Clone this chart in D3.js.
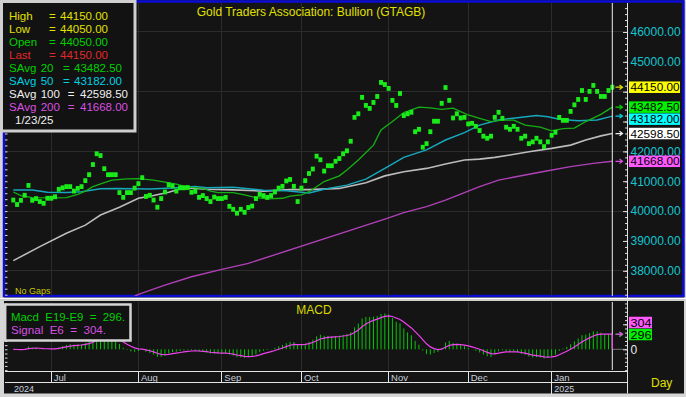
<!DOCTYPE html>
<html>
<head>
<meta charset="utf-8">
<script src="https://cdn.jsdelivr.net/npm/d3@7/dist/d3.min.js"></script>
<style>
  body { margin: 0; background: #d6d6d6; }
  svg { display: block; font-family: 'Liberation Sans', Arial, sans-serif; }
</style>
</head>
<body>
<svg id="chart" width="686" height="397"></svg>
<script>
// daily closes, one per weekday from 17 Jun 2024 to 23 Jan 2025
const closes = [
  40370, 40220, 40360, 40530, 40860, 40360, 40420, 40320, 40260, 40430,
  40430, 40480, 40730, 40780, 40820, 40820, 40670, 40760, 40820, 41020,
  41220, 41560, 41920, 41860, 41420, 41220, 41220, 41220, 40620, 40460,
  40620, 40620, 40770, 40920, 41120, 40490, 40530, 40370, 40130,
  40420, 40640, 40880, 40840, 40670, 40780, 40780, 40790, 40630, 40660,
  40460, 40520, 40420, 40320, 40470, 40420, 40420, 40460, 40160, 40060,
  39930, 40060, 39960, 40120, 40170, 40420, 40560, 40520, 40460, 40520,
  40640, 40770, 40830, 41010, 41060, 40830, 40320, 40770, 41020, 41260,
  41410, 41840, 41720, 41340, 41520, 41520, 41670, 41760, 41920, 42020,
  42340, 43140, 43260, 43810, 43540, 43440, 43640, 43840, 44310, 44240,
  44110, 43710, 43540, 43940, 43200, 43260, 43310, 42660, 42740, 42140,
  42260, 42660, 43010, 43010, 43610, 44140, 43710, 43120, 43260, 43120,
  43140, 42920, 42940, 42840, 42700, 42510, 42440, 42510, 43140, 43310,
  43110, 42810, 42740, 42840, 42740, 42440, 42510, 42260, 42320, 42440,
  42320, 42160, 42320, 42540, 42640, 43140, 43040, 43040, 43340, 43560,
  43740, 44040, 43740, 44010, 44210, 44010, 43840, 43840, 44040, 44150
];

// moving averages: [weekday index, value]
const sma20 = [[0,40640],[2,40520],[5,40450],[10,40440],[14,40450],[17,40560],[19,40670],[21,40820],
  [24,40950],[26,41040],[30,41080],[33,41090],[37,41040],[40,40970],[43,40900],[46,40800],[50,40760],
  [52,40670],[54,40620],[58,40620],[61,40540],[64,40450],[67,40410],[71,40430],[73,40500],[76,40540],
  [78,40650],[79,40730],[82,40990],[86,41180],[88,41380],[91,41710],[95,42210],[97,42720],[100,43000],
  [103,43300],[107,43480],[110,43460],[113,43410],[116,43450],[118,43330],[120,43220],[123,43110],
  [126,43000],[129,43050],[132,43050],[135,42880],[139,42810],[142,42690],[145,42760],[148,42780],
  [151,43000],[155,43240],[158,43482.5]];
const sma50 = [[0,40710],[5,40710],[9,40630],[14,40620],[18,40650],[23,40750],[27,40760],[36,40740],
  [42,40770],[48,40820],[51,40780],[58,40800],[62,40750],[66,40700],[72,40680],[76,40630],[78,40610],
  [82,40730],[88,40870],[93,41070],[98,41430],[103,41800],[109,42050],[114,42380],[119,42630],
  [123,42880],[128,43050],[133,43130],[138,43200],[141,43160],[144,43080],[149,43030],[154,43050],
  [158,43182]];
const sma100 = [[0,38340],[7,38810],[14,39260],[19,39530],[23,39870],[28,40130],[33,40430],[37,40520],
  [41,40630],[45,40780],[51,40730],[58,40710],[66,40670],[73,40720],[78,40720],[86,40760],[93,40950],
  [98,41180],[103,41320],[109,41430],[114,41580],[119,41710],[123,41740],[127,41800],[131,41880],
  [136,41990],[142,42100],[147,42210],[151,42380],[155,42520],[158,42598.5]];
const sma200 = [[32,37150],[33,37210],[40,37520],[47,37800],[55,38050],[62,38250],[98,39730],
  [103,39950],[109,40150],[114,40370],[119,40620],[123,40820],[128,41040],[135,41210],[141,41350],
  [147,41490],[153,41600],[158,41668]];

const legendNames = ['High', 'Low', 'Open', 'Last', 'SAvg 20', 'SAvg 50', 'SAvg 100', 'SAvg 200'];
const legendValues = [44150, 44050, 44050, 44150, 43482.5, 43182, 42598.5, 41668];
const lastDate = '1/23/25';
const priceTicks = [38000, 39000, 40000, 41000, 42000, 43000, 44000, 45000, 46000];
const macdLast = 296;
const signalLast = 304;

const svg = d3.select('#chart');
const width = +svg.attr('width');
const height = +svg.attr('height');

// colours
const yellow = '#e0e000', green = '#00d000', red = '#e02828', cyan = '#00d0e0',
      white = '#f0f0f0', magenta = '#d850e0', axisText = '#14c4d0';
const legendColors = [yellow, yellow, green, red, green, cyan, white, magenta];

const plot = { left: 5, right: 627.5, top: 3, bottom: 296 };
const macdPanel = { top: 302, bottom: 370 };
const tagGap = 12;

const dates = d3.timeDay.range(new Date(2024, 5, 17), new Date(2025, 0, 24))
    .filter(d => d.getDay() !== 0 && d.getDay() !== 6);

const xScale = d3.scaleLinear().domain([0, dates.length - 1]).range([13.3, 612.3]);
const yScale = d3.scaleLinear().domain([37156, 46971]).range([plot.bottom, plot.top]);
const mScale = d3.scaleLinear().domain([-414, 946]).range([macdPanel.bottom, macdPanel.top]);

const monthStarts = d3.range(1, dates.length)
    .filter(i => dates[i].getMonth() !== dates[i - 1].getMonth());

// MACD from the closes
const ema = (values, n) => {
  const k = 2 / (n + 1);
  let e = values[0];
  return values.map(v => (e += k * (v - e)));
};
const fast = ema(closes, 9);
const slow = ema(closes, 19);
const macd = closes.map((c, i) => fast[i] - slow[i]);
const signal = ema(macd, 6);

// value tags on the right edge, pushed apart when they collide
function placeTags(items, scale, h) {
  const placed = [];
  items.forEach(it => {
    let y = scale(it.value);
    for (let k = 0; k < 10; k++) {
      const hit = placed.find(p => Math.abs(p.y - y) < h);
      if (!hit) break;
      y = it.value > hit.value ? hit.y - h : hit.y + h;
    }
    placed.push(Object.assign({}, it, { y }));
  });
  return placed;
}

const priceTags = placeTags([
  { value: legendValues[3], fill: '#ffff00', arrow: yellow },
  { value: legendValues[4], fill: '#00f000', arrow: green },
  { value: legendValues[5], fill: '#00ffff', arrow: cyan },
  { value: legendValues[6], fill: '#ffffff', arrow: white },
  { value: legendValues[7], fill: '#ff58ff', arrow: magenta }
], yScale, tagGap);
const macdTags = placeTags([
  { value: macdLast, fill: '#00f000', arrow: green },
  { value: signalLast, fill: '#ff58ff', arrow: magenta }
], mScale, tagGap);

// backgrounds
svg.append('rect').attr('width', width).attr('height', height).attr('fill', '#d6d6d6');
svg.append('rect').attr('x', 4).attr('y', 0).attr('width', 680).attr('height', 393.5).attr('fill', '#141414');
svg.append('rect').attr('x', 4).attr('y', 1.5).attr('width', 679.5).attr('height', 294.5)
    .attr('fill', 'none').attr('stroke', '#0c0cd8').attr('stroke-width', 2.5);
svg.append('rect').attr('x', 0).attr('y', 297.5).attr('width', width).attr('height', 3.5).attr('fill', '#cfcfcf');
svg.append('line').attr('x1', 0).attr('x2', width).attr('y1', 298.5).attr('y2', 298.5).attr('stroke', '#ffffff');

// grid
const grid = svg.append('g').attr('stroke', '#2c2c2c').attr('shape-rendering', 'crispEdges');
grid.selectAll('.hgrid').data(d3.range(38000, 46001, 2000)).join('line')
    .attr('x1', plot.left).attr('x2', plot.right)
    .attr('y1', d => yScale(d)).attr('y2', d => yScale(d));
grid.selectAll('.vgrid').data(monthStarts).join('line')
    .attr('x1', d => xScale(d)).attr('x2', d => xScale(d))
    .attr('y1', plot.top).attr('y2', plot.bottom);
grid.selectAll('.vgrid2').data(monthStarts).join('line')
    .attr('x1', d => xScale(d)).attr('x2', d => xScale(d))
    .attr('y1', macdPanel.top).attr('y2', macdPanel.bottom);

// title
svg.append('text').attr('x', 311).attr('y', 16).attr('text-anchor', 'middle')
    .attr('font-size', 12).attr('fill', yellow).text('Gold Traders Association: Bullion (GTAGB)');
svg.append('text').attr('x', 15).attr('y', 294).attr('font-size', 9).attr('fill', '#c8c800').text('No Gaps');

// price panel
svg.append('clipPath').attr('id', 'clip').append('rect')
    .attr('x', plot.left).attr('y', plot.top)
    .attr('width', plot.right - plot.left).attr('height', plot.bottom - plot.top);
const g = svg.append('g').attr('clip-path', 'url(#clip)');

const line = d3.line().x(d => xScale(d[0])).y(d => yScale(d[1]));
const smaStyles = [
  { data: sma200, color: '#b040b8', w: 1.4 },
  { data: sma100, color: '#bcbcbc', w: 1.6 },
  { data: sma50, color: '#16a8bc', w: 1.5 },
  { data: sma20, color: '#14b014', w: 1.3 }
];
smaStyles.forEach(s => {
  g.append('path').attr('d', line(s.data)).attr('fill', 'none')
      .attr('stroke', s.color).attr('stroke-width', s.w);
});

g.selectAll('.dot').data(closes).join('rect')
    .attr('x', (d, i) => xScale(i) - 2).attr('y', d => yScale(d) - 2.4)
    .attr('width', 4).attr('height', 4.8).attr('fill', '#19ec19');

// cursor line
svg.append('line').attr('x1', xScale(dates.length - 1)).attr('x2', xScale(dates.length - 1))
    .attr('y1', plot.top).attr('y2', plot.bottom).attr('stroke', '#eeeeee');

// right price axis; labels sitting under a value tag are left out
const hiddenBy = (tags, scale) => v => tags.some(t => Math.abs(t.y - scale(v)) < 9);
const priceHidden = hiddenBy(priceTags, yScale);
const rightMinor = svg.append('g').attr('transform', `translate(${plot.right},0)`)
    .call(d3.axisRight(yScale).tickValues(d3.range(37200, 46900, 200)).tickSize(-2.5).tickFormat(''));
const rightMajor = svg.append('g').attr('transform', `translate(${plot.right},0)`)
    .call(d3.axisRight(yScale).tickValues(priceTicks).tickSize(-4.5).tickPadding(3)
        .tickFormat(d => priceHidden(d) ? '' : d3.format('.2f')(d)));
const leftMinor = svg.append('g').attr('transform', `translate(${plot.left},0)`)
    .call(d3.axisRight(yScale).tickValues(d3.range(37200, 46900, 200)).tickSize(2.5).tickFormat(''));
[rightMinor, rightMajor, leftMinor].forEach(a => {
  a.attr('color', '#dcdcdc').select('.domain').remove();
});
rightMajor.selectAll('text').attr('fill', axisText).attr('font-size', 12)
    .attr('font-family', "'Liberation Sans', Arial, sans-serif");
svg.append('line').attr('x1', plot.right).attr('x2', plot.right).attr('y1', plot.top).attr('y2', 393.5)
    .attr('stroke', '#e0e0e0');

function drawTags(placed, scale, boxW, fmt) {
  placed.forEach(p => {
    const ay = scale(p.value);
    svg.append('path').attr('d', `M615.5,${ay}H622 M619.5,${ay - 2.2}L622.5,${ay}L619.5,${ay + 2.2}`)
        .attr('fill', 'none').attr('stroke', p.arrow).attr('stroke-width', 1.2);
  });
  placed.forEach(p => {
    svg.append('rect').attr('x', 629).attr('y', p.y - 5.75).attr('width', boxW).attr('height', 11.5)
        .attr('fill', p.fill);
    svg.append('text').attr('x', 630.5).attr('y', p.y + 4).attr('font-size', 10.5)
        .attr('textLength', boxW - 2).attr('lengthAdjust', 'spacingAndGlyphs')
        .attr('fill', '#000').text(fmt(p.value));
  });
}
drawTags(priceTags, yScale, 51, d3.format('.2f'));

// MACD panel
svg.selectAll('.mbar').data(macd).join('rect')
    .attr('x', (d, i) => xScale(i) - 0.5).attr('width', 1)
    .attr('y', d => mScale(Math.max(0, d))).attr('height', d => Math.abs(mScale(d) - mScale(0)))
    .attr('fill', '#00c800');
svg.append('line').attr('x1', xScale(dates.length - 1)).attr('x2', plot.right)
    .attr('y1', mScale(0)).attr('y2', mScale(0)).attr('stroke', '#777');
svg.append('path')
    .attr('d', d3.line().x((d, i) => xScale(i)).y(d => mScale(d))(signal))
    .attr('fill', 'none').attr('stroke', '#f040f0').attr('stroke-width', 1.2);
svg.append('line').attr('x1', xScale(dates.length - 1)).attr('x2', xScale(dates.length - 1))
    .attr('y1', macdPanel.top).attr('y2', macdPanel.bottom).attr('stroke', '#eeeeee');
svg.append('line').attr('x1', xScale(dates.length - 1)).attr('x2', xScale(dates.length - 1))
    .attr('y1', mScale(macdLast)).attr('y2', mScale(0)).attr('stroke', '#f040f0').attr('stroke-width', 1.2);

const macdTicks = d3.range(-5, 12).map(k => k * 500 / 6);
const mRight = svg.append('g').attr('transform', `translate(${plot.right},0)`)
    .call(d3.axisRight(mScale).tickValues(macdTicks).tickSize(-2.5).tickFormat(''));
const mRightMajor = svg.append('g').attr('transform', `translate(${plot.right},0)`)
    .call(d3.axisRight(mScale).tickValues([0, 500]).tickSize(-4.5).tickPadding(3)
        .tickFormat(d => d === 0 ? '0' : ''));
const mLeft = svg.append('g').attr('transform', `translate(${plot.left},0)`)
    .call(d3.axisRight(mScale).tickValues(macdTicks).tickSize(2.5).tickFormat(''));
[mRight, mRightMajor, mLeft].forEach(a => {
  a.attr('color', '#dcdcdc').select('.domain').remove();
});
mRightMajor.selectAll('text').attr('fill', '#e8e8e8').attr('font-size', 12)
    .attr('font-family', "'Liberation Sans', Arial, sans-serif");

drawTags(macdTags, mScale, 23, d3.format('d'));

svg.append('text').attr('x', 314).attr('y', 313.5).attr('text-anchor', 'middle')
    .attr('font-size', 12).attr('fill', '#d8d800').text('MACD');

// date axis
const axisG = svg.append('g').attr('stroke', '#e4e4e4').attr('shape-rendering', 'crispEdges');
axisG.append('line').attr('x1', plot.left).attr('x2', plot.right).attr('y1', 371).attr('y2', 371);
axisG.append('line').attr('x1', plot.left).attr('x2', plot.right).attr('y1', 382).attr('y2', 382);
axisG.selectAll('.mt').data(monthStarts).join('line')
    .attr('x1', d => xScale(d)).attr('x2', d => xScale(d)).attr('y1', 371)
    .attr('y2', d => dates[d].getMonth() === 0 ? 393.5 : 382);

const monthFmt = d3.timeFormat('%b');
svg.selectAll('.ml').data(monthStarts).join('text')
    .attr('x', d => xScale(d) + 2.5).attr('y', 381).attr('font-size', 9.5).attr('fill', '#c8d0dc')
    .text(d => monthFmt(dates[d]));
const yearStarts = [0].concat(monthStarts.filter(i => dates[i].getMonth() === 0));
svg.selectAll('.yl').data(yearStarts).join('text')
    .attr('x', d => d === 0 ? 14 : xScale(d) + 2.5).attr('y', 391.5).attr('font-size', 9)
    .attr('fill', '#c8d0dc').text(d => dates[d].getFullYear());
svg.append('text').attr('x', 651).attr('y', 386.5).attr('font-size', 12).attr('fill', yellow).text('Day');

// price legend box
const fmt2 = d3.format('.2f');
const legend = svg.append('g').attr('font-size', 11.5);
legend.append('rect').attr('x', 1.5).attr('y', 1.5).attr('width', 133.5).attr('height', 129.5)
    .attr('fill', '#121212').attr('stroke', '#cfcfcf').attr('stroke-width', 3);
legendNames.forEach((name, i) => {
  const t = legend.append('text').attr('y', 20 + 13 * i).attr('fill', legendColors[i]);
  const parts = name.split(' ');
  if (parts.length === 1) {
    t.append('tspan').attr('x', 9).text(name);
    t.append('tspan').attr('x', 49).text('=');
    t.append('tspan').attr('x', 60).text(fmt2(legendValues[i]));
  } else {
    const wide = parts[1].length > 2;
    t.append('tspan').attr('x', 9).text(parts[0]);
    t.append('tspan').attr('x', 40.7).text(parts[1]);
    t.append('tspan').attr('x', wide ? 67.7 : 63).text('=');
    t.append('tspan').attr('x', wide ? 80 : 74).text(fmt2(legendValues[i]));
  }
});
legend.append('text').attr('x', 15).attr('y', 124).attr('fill', white).text(lastDate);

// MACD legend box
const mLegend = svg.append('g').attr('font-size', 11.5);
mLegend.append('rect').attr('x', 5.2).attr('y', 304.5).attr('width', 125.3).attr('height', 36)
    .attr('fill', '#121212').attr('stroke', '#d4d4d4').attr('stroke-width', 2.5);
mLegend.append('text').attr('x', 11).attr('y', 320.5).attr('fill', green)
    .attr('textLength', 114).attr('lengthAdjust', 'spacingAndGlyphs')
    .attr('xml:space', 'preserve').text('Macd  E19-E9  =  ' + macdLast + '.');
mLegend.append('text').attr('x', 11).attr('y', 334.3).attr('fill', magenta)
    .attr('textLength', 95).attr('lengthAdjust', 'spacingAndGlyphs')
    .attr('xml:space', 'preserve').text('Signal  E6  =  ' + signalLast + '.');
</script>
</body>
</html>
